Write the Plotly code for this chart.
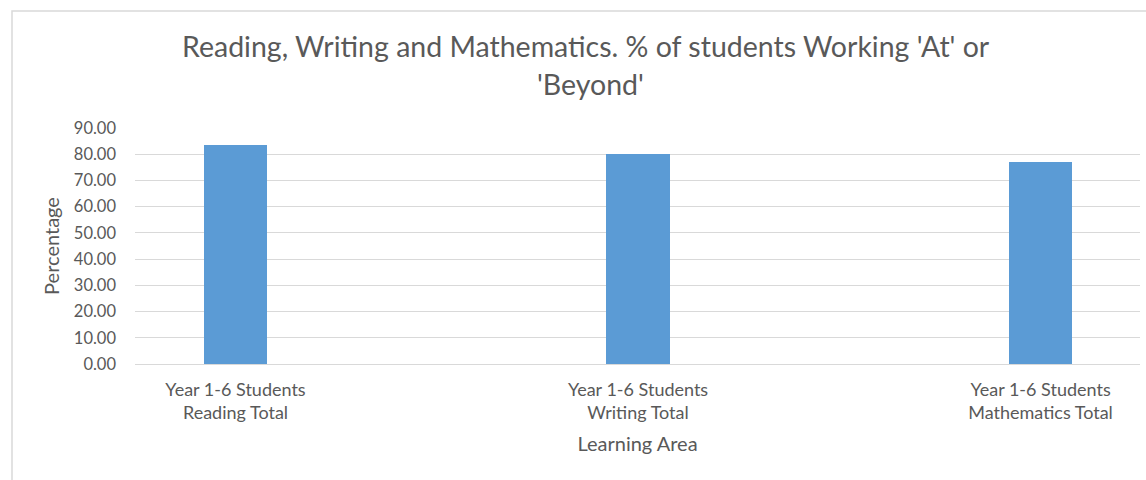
import plotly.graph_objects as go

# Learning areas and share of Year 1-6 students working 'At' or 'Beyond'
categories = [
    "Year 1-6 Students<br>Reading Total",
    "Year 1-6 Students<br>Writing Total",
    "Year 1-6 Students<br>Mathematics Total",
]
percentages = [83.4, 79.9, 77.1]
y_ticks = [0, 10, 20, 30, 40, 50, 60, 70, 80, 90]

TEXT = "#595959"
GRID = "#d9d9d9"
FONT = "Lato"

W, H = 1146, 480
ML, MR, MT, MB = 135, 6, 128, 116
pw, ph = W - ML - MR, H - MT - MB

fig = go.Figure(
    go.Bar(
        x=list(range(len(categories))),
        y=percentages,
        width=0.157,
        marker=dict(color="#5B9BD5", line=dict(width=0)),
        hoverinfo="y",
    )
)

fig.update_layout(
    width=W,
    height=H,
    margin=dict(l=ML, r=MR, t=MT, b=MB, pad=0),
    paper_bgcolor="white",
    plot_bgcolor="white",
    font=dict(family=FONT, color=TEXT, size=16),
    showlegend=False,
    bargap=0,
)

fig.update_xaxes(
    range=[-0.2497, 2.247],
    tickmode="array",
    tickvals=list(range(len(categories))),
    ticktext=categories,
    tickfont=dict(size=18, color=TEXT),
    showgrid=False,
    zeroline=False,
    showline=False,
    ticks="",
    ticklabelstandoff=13,
    title=dict(text="Learning Area", font=dict(size=20, color=TEXT), standoff=14),
)

fig.update_yaxes(
    range=[0, 90],
    tickmode="array",
    tickvals=y_ticks,
    ticktext=[f"{v:.2f}" for v in y_ticks],
    tickfont=dict(size=16.5, color=TEXT),
    showgrid=True,
    gridcolor=GRID,
    gridwidth=1,
    zeroline=True,
    zerolinecolor=GRID,
    zerolinewidth=1,
    showline=False,
    ticks="",
    ticklabelstandoff=18,
    title=dict(text="Percentage", font=dict(size=20, color=TEXT), standoff=8),
)

def px_x(x):
    return (x - ML) / pw

def px_y(y):
    return (H - MB - y) / ph

# Two-line chart title
fig.add_annotation(
    text="Reading, Writing and Mathematics. % of students Working 'At' or",
    xref="paper", yref="paper", x=px_x(586), y=px_y(46),
    xanchor="center", yanchor="middle", showarrow=False,
    font=dict(size=28.5, color=TEXT, family=FONT),
)
fig.add_annotation(
    text="'Beyond'",
    xref="paper", yref="paper", x=px_x(590), y=px_y(84),
    xanchor="center", yanchor="middle", showarrow=False,
    font=dict(size=28.5, color=TEXT, family=FONT),
)

# Chart-area frame
fig.add_shape(
    type="rect", xref="paper", yref="paper",
    x0=px_x(12), y0=px_y(H + 20), x1=px_x(W + 20), y1=px_y(11),
    line=dict(color=GRID, width=1.5), fillcolor="rgba(0,0,0,0)", layer="below",
)

fig.write_html("out.html")
